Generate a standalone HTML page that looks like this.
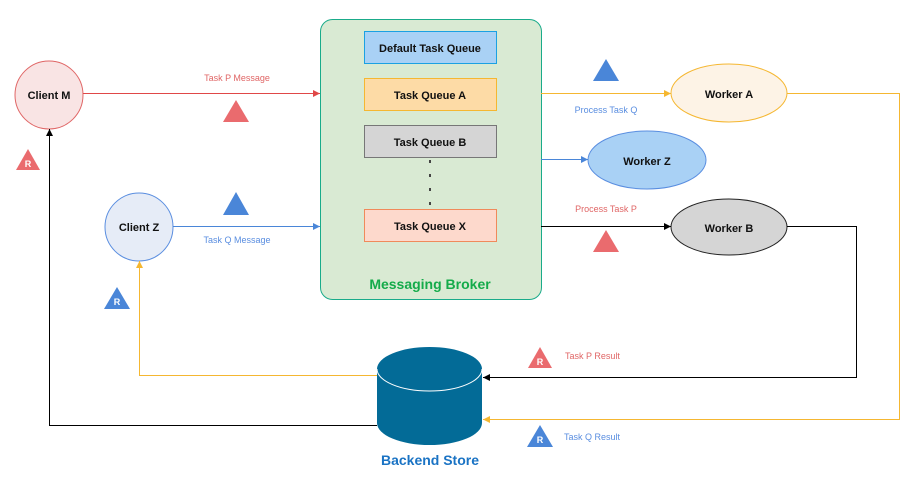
<!DOCTYPE html>
<html><head><meta charset="utf-8"><style>
html,body{margin:0;padding:0;background:#fff;}
svg{display:block;font-family:"Liberation Sans",sans-serif;}
.b{font-weight:bold;fill:#111;font-size:11px;}
</style></head><body>
<svg width="920" height="483" viewBox="0 0 920 483" xmlns="http://www.w3.org/2000/svg">
<defs>
<marker id="ar" markerWidth="8" markerHeight="8" refX="7" refY="4" orient="auto" markerUnits="userSpaceOnUse"><path d="M0,0.5 L7,4 L0,7.5z" fill="#e04848"/></marker>
<marker id="ab" markerWidth="8" markerHeight="8" refX="7" refY="4" orient="auto" markerUnits="userSpaceOnUse"><path d="M0,0.5 L7,4 L0,7.5z" fill="#4a86d8"/></marker>
<marker id="ay" markerWidth="8" markerHeight="8" refX="7" refY="4" orient="auto" markerUnits="userSpaceOnUse"><path d="M0,0.5 L7,4 L0,7.5z" fill="#f5b731"/></marker>
<marker id="ak" markerWidth="8" markerHeight="8" refX="7" refY="4" orient="auto" markerUnits="userSpaceOnUse"><path d="M0,0.5 L7,4 L0,7.5z" fill="#000"/></marker>
</defs>

<!-- broker -->
<rect x="320.5" y="19.5" width="221" height="280" rx="12" fill="#d9ead3" stroke="#1aab8a"/>
<rect x="364.5" y="31.5" width="132" height="32" fill="#a9d1f5" stroke="#1ba1e2"/>
<text x="430" y="52" text-anchor="middle" class="b">Default Task Queue</text>
<rect x="364.5" y="78.5" width="132" height="32" fill="#fddba6" stroke="#f5b731"/>
<text x="430" y="99" text-anchor="middle" class="b">Task Queue A</text>
<rect x="364.5" y="125.5" width="132" height="32" fill="#d5d5d5" stroke="#777"/>
<text x="430" y="146" text-anchor="middle" class="b">Task Queue B</text>
<line x1="430" y1="160" x2="430" y2="207" stroke="#444" stroke-width="2" stroke-dasharray="3,11"/>
<rect x="364.5" y="209.5" width="132" height="32" fill="#fdd9cc" stroke="#f08a5b"/>
<text x="430" y="230" text-anchor="middle" class="b">Task Queue X</text>
<text x="430" y="289" text-anchor="middle" font-size="14" font-weight="bold" fill="#14ab4a">Messaging Broker</text>

<!-- clients -->
<circle cx="49" cy="95" r="34" fill="#f9e4e4" stroke="#e06666"/>
<text x="49" y="99" text-anchor="middle" class="b">Client M</text>
<circle cx="139" cy="227" r="34" fill="#e6ecf7" stroke="#5a8ee0"/>
<text x="139" y="231" text-anchor="middle" class="b">Client Z</text>

<!-- workers -->
<ellipse cx="729" cy="93" rx="58" ry="29" fill="#fdf3e6" stroke="#f5b731"/>
<text x="729" y="98" text-anchor="middle" class="b">Worker A</text>
<ellipse cx="647" cy="160" rx="59" ry="29" fill="#a9d1f5" stroke="#5a8ee0"/>
<text x="647" y="165" text-anchor="middle" class="b">Worker Z</text>
<ellipse cx="729" cy="227" rx="58" ry="28" fill="#d5d5d5" stroke="#222"/>
<text x="729" y="232" text-anchor="middle" class="b">Worker B</text>

<!-- arrows to broker -->
<line x1="83" y1="93.5" x2="320" y2="93.5" stroke="#e04848" marker-end="url(#ar)"/>
<line x1="173" y1="226.5" x2="320" y2="226.5" stroke="#4a86d8" marker-end="url(#ab)"/>
<line x1="541" y1="93.5" x2="671" y2="93.5" stroke="#f5b731" marker-end="url(#ay)"/>
<line x1="541" y1="159.5" x2="588" y2="159.5" stroke="#4a86d8" marker-end="url(#ab)"/>
<line x1="541" y1="226.5" x2="671" y2="226.5" stroke="#000" marker-end="url(#ak)"/>

<!-- result paths -->
<polyline points="787,93.5 899.5,93.5 899.5,419.5 483,419.5" fill="none" stroke="#f5b731" marker-end="url(#ay)"/>
<polyline points="787,226.5 856.5,226.5 856.5,377.5 483,377.5" fill="none" stroke="#000" marker-end="url(#ak)"/>
<polyline points="377,375.5 139.5,375.5 139.5,261" fill="none" stroke="#f5b731" marker-end="url(#ay)"/>
<polyline points="377,425.5 49.5,425.5 49.5,129" fill="none" stroke="#000" marker-end="url(#ak)"/>

<!-- cylinder -->
<path d="M377,369 L377,423 A52.5,22 0 0 0 482,423 L482,369 A52.5,22 0 0 0 377,369z" fill="#036b97"/>
<path d="M377,369 A52.5,22 0 0 0 482,369" fill="none" stroke="#fff" stroke-width="1"/>
<text x="430" y="465" text-anchor="middle" font-size="14" font-weight="bold" fill="#1a73c4">Backend Store</text>

<!-- labels -->
<g font-size="9">
<text x="237" y="81" text-anchor="middle" fill="#e06666">Task P Message</text>
<text x="237" y="243" text-anchor="middle" fill="#5a8ee0">Task Q Message</text>
<text x="606" y="113" text-anchor="middle" fill="#5a8ee0">Process Task Q</text>
<text x="606" y="212" text-anchor="middle" fill="#e06666">Process Task P</text>
<text x="565" y="359" fill="#e06666">Task P Result</text>
<text x="564" y="440" fill="#5a8ee0">Task Q Result</text>
</g>

<!-- triangles -->
<polygon points="236,100 249,122 223,122" fill="#ea6b6e"/>
<polygon points="236,192 249,215 223,215" fill="#4a86d8"/>
<polygon points="606,59 619,81 593,81" fill="#4a86d8"/>
<polygon points="606,230 619,252 593,252" fill="#ea6b6e"/>

<g font-size="9" font-weight="bold" fill="#fff" text-anchor="middle">
<polygon points="28,149 40,170 16,170" fill="#ea6b6e"/><text x="28" y="167">R</text>
<polygon points="117,287 130,309 104,309" fill="#4a86d8"/><text x="117" y="305">R</text>
<polygon points="540,347 552,368 528,368" fill="#ea6b6e"/><text x="540" y="365">R</text>
<polygon points="540,425 553,447 527,447" fill="#4a86d8"/><text x="540" y="443">R</text>
</g>
</svg>
</body></html>
